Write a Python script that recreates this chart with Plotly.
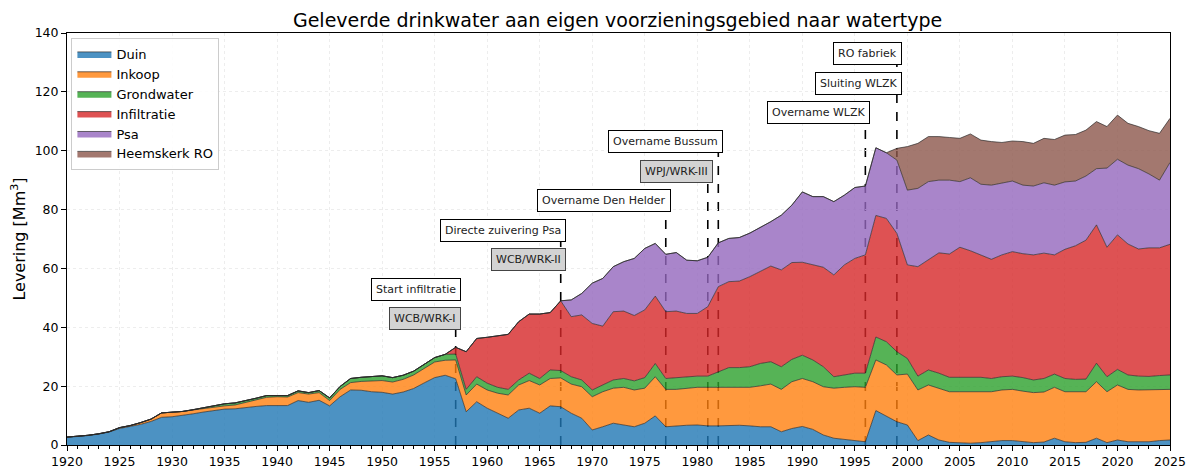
import plotly.graph_objects as go

years = list(range(1920, 2026))

duin = [2.6, 2.8, 3.2, 3.7, 4.4, 5.6, 6.2, 7.0, 8.0, 9.4,
        9.6, 10.0, 10.6, 11.2, 11.8, 12.2, 12.3, 12.8, 13.1, 13.4,
        13.4, 13.4, 15.1, 14.5, 15.2, 13.3, 16.4, 18.7, 18.6, 18.1,
        17.9, 17.3, 18.0, 19.2, 21.1, 22.9, 23.7, 22.5, 11.3, 14.7,
        12.5, 10.8, 9.1, 11.9, 12.5, 10.8, 13.3, 13.0, 10.8, 9.1,
        5.1, 6.2, 7.4, 6.8, 6.2, 7.4, 9.9, 6.2, 6.5, 6.7,
        6.8, 6.5, 6.5, 6.7, 6.7, 6.5, 6.2, 6.2, 4.5, 5.6,
        6.3, 5.3, 3.4, 2.3, 1.9, 1.7, 1.1, 11.7, 9.8, 7.9,
        6.8, 1.5, 3.4, 1.7, 0.9, 0.8, 0.6, 0.8, 1.1, 1.5,
        1.5, 1.1, 0.8, 1.0, 2.3, 1.1, 0.8, 0.9, 2.3, 0.8,
        1.7, 1.1, 1.1, 1.1, 1.5, 1.7]

inkoop = [0.1, 0.1, 0.1, 0.1, 0.1, 0.3, 0.4, 0.6, 0.8, 1.5,
          1.5, 1.4, 1.3, 1.2, 1.1, 1.1, 1.3, 1.6, 2.2, 2.8,
          3.0, 2.9, 2.7, 2.8, 2.6, 1.8, 2.5, 2.5, 3.0, 3.6,
          4.0, 4.1, 4.3, 4.6, 5.0, 5.3, 5.1, 6.4, 5.7, 6.0,
          6.2, 6.8, 7.9, 8.5, 9.4, 9.6, 9.3, 9.8, 9.9, 10.7,
          11.3, 11.9, 11.9, 12.8, 12.5, 11.9, 13.3, 12.7, 12.4, 12.5,
          12.8, 13.1, 13.1, 12.9, 12.9, 13.1, 13.9, 14.5, 14.4, 15.9,
          16.3, 16.2, 16.4, 17.0, 17.7, 18.1, 18.5, 17.2, 17.4, 15.9,
          17.3, 17.2, 17.0, 17.6, 17.2, 17.3, 17.5, 17.4, 17.0, 17.2,
          17.4, 17.2, 17.0, 17.0, 17.3, 17.0, 17.3, 17.2, 19.2, 17.3,
          18.7, 17.8, 17.6, 17.6, 17.4, 17.2]

grondwater = [0, 0, 0, 0, 0, 0, 0, 0, 0, 0,
              0, 0, 0.1, 0.3, 0.5, 0.7, 0.7, 0.6, 0.6, 0.6,
              0.5, 0.5, 0.6, 0.5, 0.7, 0.9, 1.0, 1.4, 1.4, 1.5,
              1.6, 1.5, 1.4, 1.3, 1.4, 1.5, 2.0, 2.0, 1.9, 2.5,
              2.3, 2.0, 1.9, 1.7, 2.5, 2.2, 2.9, 2.5, 2.5, 2.3,
              2.3, 2.3, 2.8, 3.0, 3.1, 3.6, 4.5, 3.7, 4.0, 4.0,
              3.8, 3.8, 5.3, 6.7, 6.7, 7.0, 7.6, 7.6, 7.7, 7.6,
              7.9, 7.4, 6.8, 3.9, 4.2, 4.6, 4.8, 7.8, 7.9, 7.9,
              5.3, 4.7, 5.1, 5.1, 4.9, 4.9, 4.9, 4.8, 4.5, 4.5,
              4.5, 4.6, 4.3, 4.6, 4.5, 4.5, 4.2, 4.3, 6.3, 5.1,
              5.3, 4.9, 4.7, 4.6, 4.7, 4.9]

infiltratie = [0.0] * 37 + [
    2.3, 12.8, 13.0,
    15.6, 17.4, 18.7, 19.8, 20.1, 21.9, 19.5, 23.7, 20.4, 22.1,
    22.6, 20.0, 23.2, 22.9, 22.2, 23.0, 22.9, 22.7, 22.6, 21.5,
    21.3, 23.6, 28.9, 29.2, 29.4, 30.6, 31.2, 32.5, 32.9, 32.9,
    31.6, 32.3, 33.8, 34.6, 37.4, 39.0, 40.2, 41.3, 41.9, 40.2,
    31.8, 37.2, 37.4, 40.9, 41.9, 44.2, 43.0, 41.5, 40.5, 41.4,
    42.3, 42.1, 42.5, 42.6, 40.5, 43.9, 45.4, 47.2, 47.0, 44.0,
    45.7, 44.5, 43.2, 43.7, 43.4, 44.4]

psa = [0.0] * 48 + [
    5.7, 7.3,
    13.7, 16.2, 15.3, 16.8, 19.4, 20.9, 17.9, 19.5, 19.9, 18.1,
    17.9, 16.8, 14.9, 14.7, 14.8, 14.8, 15.0, 15.1, 18.6, 19.5,
    23.9, 23.2, 24.0, 24.9, 23.7, 24.1, 23.4, 23.0, 22.3, 24.9,
    25.4, 26.6, 26.6, 24.7, 25.1, 22.3, 24.8, 24.1, 25.2, 24.4,
    24.0, 23.3, 23.4, 23.9, 23.7, 22.9, 22.0, 21.8, 19.1, 26.9,
    25.7, 26.8, 27.3, 25.1, 23.0, 27.8]

heemskerk = [0.0] * 79 + [
    4.0,
    14.8, 15.3, 15.3, 14.8, 14.5, 14.7, 14.9, 15.0, 14.8, 13.8,
    13.6, 14.8, 14.5, 15.1, 15.5, 15.9, 15.8, 15.6, 16.0, 14.1,
    15.0, 14.2, 14.3, 14.7, 15.9, 15.0]

series_names = ["Duin", "Inkoop", "Grondwater", "Infiltratie", "Psa", "Heemskerk RO"]
series_values = [duin, inkoop, grondwater, infiltratie, psa, heemskerk]
series_colors = ["rgba(31,119,180,0.8)", "rgba(255,127,14,0.8)", "rgba(44,160,44,0.8)",
                 "rgba(214,39,40,0.8)", "rgba(148,103,189,0.8)", "rgba(140,86,75,0.8)"]

event_years = [1957, 1957, 1967, 1967, 1977, 1981, 1982, 1996, 1999, 1999]
event_labels = ["Start infiltratie", "WCB/WRK-I", "Directe zuivering Psa", "WCB/WRK-II",
                "Overname Den Helder", "WPJ/WRK-III", "Overname Bussum",
                "Overname WLZK", "Sluiting WLZK", "RO fabriek"]
event_levels = [53, 43, 73, 63, 83, 93, 103, 113, 123, 133]
event_gray = [False, True, False, True, False, True, False, False, False, False]

fig = go.Figure()
for name, vals, col in zip(series_names, series_values, series_colors):
    fig.add_trace(go.Scatter(
        x=years, y=vals, name=name, stackgroup="one", mode="lines",
        line=dict(color="rgba(40,40,40,0.85)", width=0.8),
        fillcolor=col,
    ))

# vertical dashed event lines (drawn beneath the areas)
line_tops = {}
for yr, lv in zip(event_years, event_levels):
    line_tops[yr] = max(line_tops.get(yr, 0), lv)
for yr, top in line_tops.items():
    fig.add_shape(type="line", x0=yr, x1=yr, y0=0, y1=top, xref="x", yref="y",
                  line=dict(color="black", width=1.6, dash="dash"), layer="below")

for yr, lab, lv, gray in zip(event_years, event_labels, event_levels, event_gray):
    fig.add_annotation(
        x=yr, y=lv, xref="x", yref="y", text=lab, showarrow=False,
        xanchor="right", yanchor="middle", xshift=5,
        font=dict(family="DejaVu Sans", size=11, color="#222"),
        bgcolor="#d3d3d3" if gray else "white",
        bordercolor="#444" if gray else "black",
        borderwidth=1, borderpad=4,
    )

# The page body has an 8px default margin, so the figure is sized and
# positioned to place the plot area at the same page pixels as the reference.
fig.update_layout(
    width=1186, height=463,
    margin=dict(l=59, r=24, t=25, b=26),
    paper_bgcolor="white", plot_bgcolor="white",
    title=dict(text="Geleverde drinkwater aan eigen voorzieningsgebied naar watertype",
               x=0.514, xanchor="center", y=0.974, yanchor="middle",
               font=dict(family="DejaVu Sans", size=19, color="black")),
    font=dict(family="DejaVu Sans", color="black"),
    showlegend=True,
    legend=dict(x=0.004, y=0.988, xanchor="left", yanchor="top",
                bgcolor="rgba(255,255,255,0.85)", bordercolor="#cccccc", borderwidth=1,
                font=dict(size=13, family="DejaVu Sans"), traceorder="normal",
                tracegroupgap=0, itemwidth=34),
)
fig.update_xaxes(
    range=[1920, 2025], tick0=1920, dtick=5, ticks="outside", ticklen=5, tickwidth=1,
    tickcolor="black", showline=True, linecolor="black", linewidth=1, mirror=True,
    showgrid=True, gridcolor="#ededed", griddash="dot", gridwidth=1, zeroline=False,
    tickfont=dict(size=12.5, family="DejaVu Sans"), automargin=False,
    minor=dict(ticks="outside", dtick=1, ticklen=3, tickcolor="black", showgrid=False),
)
fig.update_yaxes(
    range=[0, 140], dtick=20, ticks="outside", ticklen=5, tickwidth=1, tickcolor="black",
    showline=True, linecolor="black", linewidth=1, mirror=True,
    showgrid=True, gridcolor="#ededed", griddash="dot", gridwidth=1, zeroline=False,
    tickfont=dict(size=12.5, family="DejaVu Sans"), automargin=False,
    title=dict(text="Levering [Mm<sup>3</sup>]", font=dict(size=16, family="DejaVu Sans"), standoff=8),
)

fig.write_html("out.html")
